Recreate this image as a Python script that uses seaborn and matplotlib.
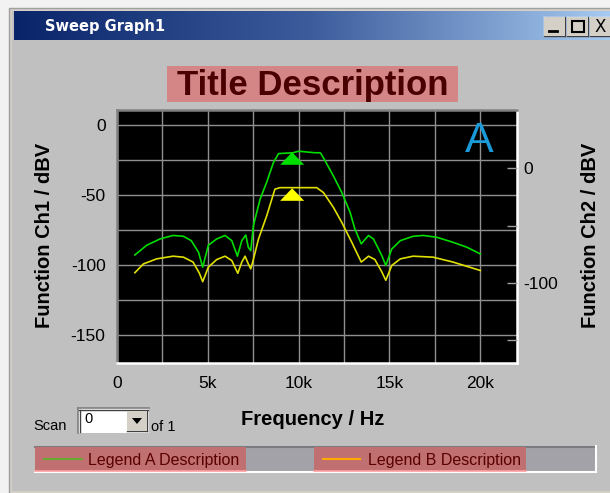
import numpy as np
import pandas as pd
import matplotlib
matplotlib.use("Agg")
import matplotlib.pyplot as plt
import seaborn as sns
from matplotlib.patches import Rectangle, Polygon
from matplotlib.lines import Line2D
from matplotlib.colors import LinearSegmentedColormap
from matplotlib.path import Path

# ---------------- data ----------------
green_f = [1000, 1650, 2380, 3100, 3670, 4100, 4500, 4730, 5040, 5500, 5960, 6330, 6640, 6880,
           7100, 7240, 7370, 7520, 7700, 7890, 8250, 8620, 8900, 9700, 10000, 10900, 11200,
           11370, 11920, 12380, 12840, 13100, 13450, 13850, 14120, 14580, 14800, 15130, 15600,
           16300, 16870, 17600, 18500, 19260, 20000]
green_v = [-92.9, -86.0, -81.5, -79.0, -79.6, -82.7, -91.0, -101.6, -86.0, -81.5, -79.0, -82.7,
           -93.8, -82.7, -78.7, -87.5, -89.8, -72.0, -62.6, -53.0, -41.0, -27.0, -20.6, -20.0,
           -18.9, -20.0, -20.0, -23.6, -36.6, -48.4, -62.6, -74.4, -85.0, -79.0, -81.5, -93.3,
           -100.4, -88.6, -82.7, -79.6, -79.0, -80.3, -83.9, -87.4, -92.2]

yellow_f = [1000, 1470, 2200, 3100, 3670, 4200, 4550, 4730, 5040, 5500, 5960, 6330, 6660, 6880,
            7060, 7240, 7370, 7480, 7800, 8250, 8700, 8980, 11000, 11370, 11920, 12380, 12930,
            13450, 13850, 14200, 14580, 14800, 15130, 15600, 16300, 17400, 18500, 20000]
yellow_v = [-105.6, -99.3, -95.7, -93.8, -94.5, -98.0, -106.0, -112.0, -101.6, -96.2, -93.8,
            -96.9, -106.0, -98.0, -93.8, -99.3, -102.8, -98.0, -81.5, -65.0, -46.0, -44.9,
            -44.9, -48.4, -59.0, -69.7, -83.9, -98.0, -93.8, -96.2, -105.0, -111.0, -100.4,
            -95.7, -93.8, -94.5, -98.0, -104.0]

marker_f = [9650, 9650]
marker_v = [-24.3, -50.0]

series_names = ["Legend A Description", "Legend B Description"]
x_ticks = [0, 5000, 10000, 15000, 20000]
x_tick_labels = ["0", "5k", "10k", "15k", "20k"]
y1_ticks = [-150, -100, -50, 0]
y2_ticks = [-100, 0]

title_text = "Title Description"
window_title = "Sweep Graph1"

# ---------------- figure ----------------
W, H = 610, 493
plt.rcParams["font.family"] = ["Liberation Sans", "DejaVu Sans"]
fig = plt.figure(figsize=(W / 100, H / 100), dpi=100)
fig.patch.set_facecolor("#f2f2f2")


def fx(x):
    return x / W


def fy(y):
    return 1 - y / H


def prect(x0, y0, x1, y1, z=1, **kw):
    r = Rectangle((fx(x0), fy(y1)), (x1 - x0) / W, (y1 - y0) / H,
                  transform=fig.transFigure, zorder=z, **kw)
    fig.patches.append(r)
    return r


def pline(xs, ys, z=2, **kw):
    l = Line2D([fx(x) for x in xs], [fy(y) for y in ys], transform=fig.transFigure,
               zorder=z, **kw)
    fig.lines.append(l)


# window frame
prect(9, 8, 611, 494, z=-20, facecolor="#d4d0c8", edgecolor="#a0a0a0", linewidth=1)
prect(12, 11, 611, 491, z=-19, facecolor="#c0c0c0", edgecolor="none")

# title bar gradient
ax_tb = fig.add_axes([fx(14), fy(40), (610 - 14) / W, (40 - 11) / H], zorder=-5)
cmap_tb = LinearSegmentedColormap.from_list("tb", ["#0a246a", "#3c5c9c", "#a6caf0"])
ax_tb.imshow(np.linspace(0, 1, 256)[None, :], aspect="auto", cmap=cmap_tb,
             extent=[0, 1, 0, 1])
ax_tb.set_axis_off()
fig.text(fx(45), fy(26), window_title, color="white", fontsize=10.5, fontweight="bold",
         family=["DejaVu Sans"], va="center", ha="left")

# window buttons
for bx0 in [544, 567, 590]:
    prect(bx0, 17, bx0 + 21, 36, z=2, facecolor="#d4d0c8", edgecolor="none")
    pline([bx0, bx0 + 21], [17, 17], color="white", linewidth=1)
    pline([bx0, bx0], [17, 36], color="white", linewidth=1)
    pline([bx0, bx0 + 21], [36, 36], color="#404040", linewidth=1)
    pline([bx0 + 21, bx0 + 21], [17, 36], color="#404040", linewidth=1)
pline([549, 557], [31, 31], z=4, color="black", linewidth=2)
prect(572, 21, 584, 32, z=3, facecolor="none", edgecolor="black", linewidth=1.5)
fig.text(fx(600), fy(27), "X", fontsize=12, ha="center", va="center",
         family=["DejaVu Sans"], zorder=4)

# chart title box
prect(167, 66, 458, 102, z=1, facecolor="#d48585", edgecolor="none")
fig.text(fx(312.5), fy(85), title_text, fontsize=25, fontweight="bold", color="#4a0000",
         ha="center", va="center", zorder=3)

# ---------------- main plot ----------------
ax = fig.add_axes([fx(116.7), fy(363), 400 / W, 253 / H])
ax.set_facecolor("black")

df_g = pd.DataFrame({"f": green_f, "v": green_v})
df_y = pd.DataFrame({"f": yellow_f, "v": yellow_v})
sns.lineplot(data=df_g, x="f", y="v", ax=ax, color="#00dd00", linewidth=1.2,
             estimator=None, sort=False, zorder=3)
sns.lineplot(data=df_y, x="f", y="v", ax=ax, color="#e0e000", linewidth=1.2,
             estimator=None, sort=False, zorder=3)

tri = Path([(-1, -0.5), (1, -0.5), (0, 0.55), (-1, -0.5)],
           [Path.MOVETO, Path.LINETO, Path.LINETO, Path.CLOSEPOLY])
df_m = pd.DataFrame({"f": marker_f, "v": marker_v, "s": ["A", "B"]})
sns.scatterplot(data=df_m, x="f", y="v", hue="s", palette=["#00e000", "#ffff00"],
                marker=tri, s=300, linewidth=0, ax=ax, legend=False, zorder=4)

ax.set_xlim(0, 22000)
ax.set_ylim(-170, 10.5)
ax.set_xticks(x_ticks)
ax.set_xticklabels(x_tick_labels)
ax.set_xticks(np.arange(2500, 22000, 2500), minor=True)
ax.set_yticks(y1_ticks)
ax.set_yticklabels([str(v) for v in y1_ticks])
ax.set_yticks([-125, -75, -25], minor=True)
ax.grid(True, which="both", color="#8f8f8f", linewidth=1)
ax.set_axisbelow(True)
ax.tick_params(axis="both", which="both", length=0, labelsize=12.5, colors="black")
ax.tick_params(axis="y", pad=8)
ax.tick_params(axis="x", pad=9)
for s, c in [("top", "#808080"), ("left", "#808080"), ("bottom", "white"), ("right", "white")]:
    ax.spines[s].set_color(c)
    ax.spines[s].set_linewidth(1.8)

ax.set_xlabel("Frequency / Hz", fontsize=14.5, fontweight="bold")
ax.set_ylabel("Function Ch1 / dBV", fontsize=14.5, fontweight="bold")
ax.xaxis.set_label_coords(0.49, -0.185)
ax.yaxis.set_label_coords(-0.157, 0.506)

ax2 = ax.twinx()
ax2.set_ylim(-170, 51)
ax2.set_yticks(y2_ticks)
ax2.set_yticklabels([str(v) for v in y2_ticks])
ax2.set_yticks([-150, -50], minor=True)
ax2.tick_params(axis="y", which="both", direction="in", length=7, width=1,
                color="#a0a0a0", labelsize=12.5, pad=5)
for s in ax2.spines.values():
    s.set_visible(False)
ax2.set_ylabel("Function Ch2 / dBV", fontsize=14.5, fontweight="bold")
ax2.yaxis.set_label_coords(1.161, 0.506)

ax.text(0.906, 0.876, "A", transform=ax.transAxes, fontsize=31, color="#1a9ad8",
        ha="center", va="center", zorder=5)

# ---------------- scan widget ----------------
fig.text(fx(33), fy(426), "Scan", fontsize=10.5, ha="left", va="center")
prect(78, 408, 149, 433, z=1, facecolor="white", edgecolor="none")
pline([78, 149], [408, 408], color="#808080", linewidth=1.2)
pline([78, 78], [408, 433], color="#808080", linewidth=1.2)
pline([79, 148], [410, 410], color="#404040", linewidth=1)
pline([80, 80], [410, 432], color="#404040", linewidth=1)
prect(127, 411, 147, 431, z=2, facecolor="#d4d0c8", edgecolor="none")
pline([127, 147], [431, 431], color="#404040", linewidth=1)
pline([147, 147], [411, 431], color="#404040", linewidth=1)
fig.patches.append(Polygon([[fx(132), fy(418)], [fx(142), fy(418)], [fx(137), fy(424)]],
                           closed=True, transform=fig.transFigure, facecolor="black",
                           zorder=3))
fig.text(fx(84), fy(419), "0", fontsize=10.5, ha="left", va="center")
fig.text(fx(151), fy(427), "of 1", fontsize=10.5, ha="left", va="center")

# ---------------- legend bar ----------------
prect(35, 446, 596, 472, z=1, facecolor="#a2a2a8", edgecolor="none")
pline([35, 596], [446.5, 446.5], color="#7c7c80", linewidth=1.5)
pline([35, 596], [471.5, 471.5], color="white", linewidth=1.5)
pline([595.5, 595.5], [446, 472], color="white", linewidth=1.5)
prect(35, 447, 246, 471, z=2, facecolor="#c07070", edgecolor="none")
prect(314, 447, 526, 471, z=2, facecolor="#c07070", edgecolor="none")
pline([35, 246], [470.5, 470.5], z=3, color="#ffa0a0", linewidth=1.2)
pline([314, 526], [470.5, 470.5], z=3, color="#ffa0a0", linewidth=1.2)
pline([44, 82], [459, 459], z=3, color="#6aa834", linewidth=1.5)
pline([323, 360], [459, 459], z=3, color="#ffaa00", linewidth=1.5)
fig.text(fx(88), fy(460), series_names[0], fontsize=11.5, color="#5a0000", ha="left",
         va="center", zorder=4)
fig.text(fx(368), fy(460), series_names[1], fontsize=11.5, color="#5a0000", ha="left",
         va="center", zorder=4)

fig.savefig("out.png", dpi=100, facecolor=fig.get_facecolor())
